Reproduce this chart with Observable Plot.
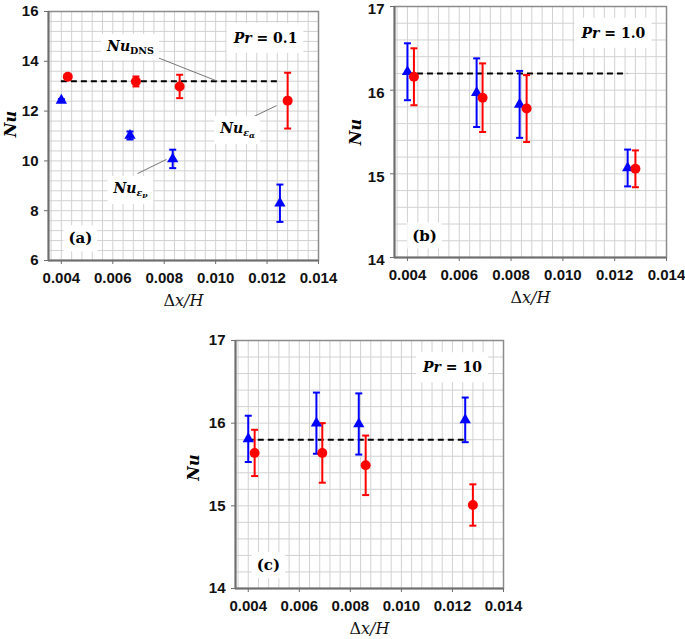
<!DOCTYPE html>
<html><head><meta charset="utf-8">
<script src="https://cdn.jsdelivr.net/npm/d3@7"></script>
<script src="https://cdn.jsdelivr.net/npm/@observablehq/plot@0.6"></script>
<style>
body{margin:0;background:#fff;}
#wrap{position:relative;width:685px;height:639px;background:#fff;}
.p{position:absolute;}
</style>
</head><body><div id="wrap"></div>
<script>
// ---- data ----
const xNuEv = [0.004, 0.00667, 0.00833, 0.0125];      // triangles (blue)
const xNuEa = [0.00425, 0.0069, 0.0086, 0.0128];      // circles (red)
const prLabels = ["Pr = 0.1", "Pr = 1.0", "Pr = 10"];
const panelTags = ["(a)", "(b)", "(c)"];
const nuDNS = [13.2, 16.2, 15.8];
const nuEv_a = [12.43, 11.02, 10.08, 8.30];
const errEv_a = [0.05, 0.16, 0.37, 0.75];
const nuEa_a = [13.38, 13.19, 12.99, 12.42];
const errEa_a = [0.0, 0.20, 0.47, 1.12];
const nuEv_b = [16.22, 15.97, 15.83, 15.07];
const errEv_b = [0.34, 0.41, 0.40, 0.22];
const nuEa_b = [16.16, 15.91, 15.78, 15.06];
const errEa_b = [0.34, 0.41, 0.40, 0.22];
const nuEv_c = [15.81, 16.00, 15.99, 16.04];
const errEv_c = [0.28, 0.37, 0.37, 0.27];
const nuEa_c = [15.64, 15.64, 15.49, 15.01];
const errEa_c = [0.28, 0.36, 0.36, 0.25];
const xTicks = [0.004, 0.006, 0.008, 0.010, 0.012, 0.014];
const yTicksA = [6, 8, 10, 12, 14, 16];
const yTicksBC = [14, 15, 16, 17];

// ---- helpers ----
const BLUE = "#0000ff", RED = "#ff0000";
const xGrid = d3.range(0, 27).map(i => +(0.0036 + i * 0.0004).toFixed(5));
const capSymbol = {draw(ctx, size) { const r = Math.sqrt(size / Math.PI); ctx.moveTo(-r, 0); ctx.lineTo(r, 0); }};
const SERIF = "'DejaVu Serif', serif";

const RICH = {
  "NuDNS": [{t: "Nu", st: "italic"}, {t: "DNS", st: "normal", lv: 1}],
  "Nuea": [{t: "Nu", st: "italic"}, {t: "ε", st: "italic", lv: 1}, {t: "α", st: "italic", lv: 2}],
  "Nuev": [{t: "Nu", st: "italic"}, {t: "ε", st: "italic", lv: 1}, {t: "ν", st: "italic", lv: 2}],
  "Pr = 0.1": [{t: "Pr", st: "italic"}, {t: " = 0.1", st: "normal"}],
  "Pr = 1.0": [{t: "Pr", st: "italic"}, {t: " = 1.0", st: "normal"}],
  "Pr = 10": [{t: "Pr", st: "italic"}, {t: " = 10", st: "normal"}],
  "Δx/H": [{t: "Δ", st: "normal"}, {t: "x/H", st: "italic"}]
};
const BOXED = new Set(["NuDNS", "Nuea", "Nuev", "Pr = 0.1", "Pr = 1.0", "Pr = 10", "(a)", "(b)", "(c)"]);

function postProcess(svg) {
  d3.select(svg).selectAll("text").each(function() {
    const key = this.textContent;
    const spec = RICH[key];
    if (spec) {
      const base = parseFloat(getComputedStyle(this).fontSize) || 14;
      const sizes = [base, base * 0.68, base * 0.55];
      const shifts = [0, base * 0.22, base * 0.36];
      const el = d3.select(this);
      el.text(null);
      let level = 0;
      for (const p of spec) {
        const lv = p.lv || 0;
        const ts = el.append("tspan").text(p.t).attr("font-size", sizes[lv] + "px");
        if (p.st) ts.attr("font-style", p.st);
        if (lv !== level) ts.attr("dy", (shifts[lv] - shifts[level]) + "px");
        level = lv;
      }
    }
    if (BOXED.has(key)) {
      const bb = this.getBBox();
      const pad = key.startsWith("Pr") ? [6, 7] : [5, 4];
      const rect = document.createElementNS("http://www.w3.org/2000/svg", "rect");
      rect.setAttribute("x", bb.x - pad[0]);
      rect.setAttribute("y", bb.y - pad[1]);
      rect.setAttribute("width", bb.width + 2 * pad[0]);
      rect.setAttribute("height", bb.height + 2 * pad[1]);
      rect.setAttribute("fill", "white");
      rect.setAttribute("stroke", "none");
      const tr = this.getAttribute("transform");
      if (tr) rect.setAttribute("transform", tr);
      this.parentNode.insertBefore(rect, this);
    }
  });
}

function panel(cfg) {
  const tri = xNuEv.map((x, i) => ({x, y: cfg.ev[i], lo: cfg.ev[i] - cfg.eev[i], hi: cfg.ev[i] + cfg.eev[i]}));
  const circ = xNuEa.map((x, i) => ({x, y: cfg.ea[i], lo: cfg.ea[i] - cfg.eea[i], hi: cfg.ea[i] + cfg.eea[i]}));
  const y0 = cfg.yDomain[0];
  const svg = Plot.plot({
    width: cfg.width, height: cfg.height,
    marginLeft: cfg.m[0], marginRight: cfg.m[1], marginTop: cfg.m[2], marginBottom: cfg.m[3],
    x: {domain: [0.0035, 0.014]},
    y: {domain: cfg.yDomain},
    style: {fontFamily: "'Liberation Sans', Arial, sans-serif", fontSize: "15px", fontWeight: "bold", background: "transparent", overflow: "visible"},
    marks: [
      Plot.gridX(xGrid, {stroke: "#d2d2d2", strokeOpacity: 1}),
      Plot.gridY(cfg.yGrid, {stroke: "#d2d2d2", strokeOpacity: 1}),
      Plot.frame({stroke: "#8c8c8c", strokeWidth: 1.5}),
      Plot.ruleX([0.0035], {stroke: "#6e6e6e", strokeWidth: 2}),
      Plot.ruleY([y0], {stroke: "#6e6e6e", strokeWidth: 2}),
      Plot.axisX(xTicks, {tickFormat: d3.format(".3f"), tickSize: 4, tickPadding: 8, stroke: "#6e6e6e", fill: "#111", fontSize: 15, fontWeight: "bold", label: null}),
      // y tick marks
      Plot.axisY(cfg.yTicks, {tickFormat: () => "", tickSize: 4, stroke: "#6e6e6e", label: null}),
      // y tick labels
      Plot.axisY(cfg.yTicks, {tickFormat: d3.format("d"), tickSize: 0, tickPadding: 10, dy: cfg.yTickDy, stroke: "none", fill: "#111", fontSize: 15, fontWeight: "bold", label: null}),
      Plot.ruleY([cfg.dns], {x1: d3.min(xNuEv), x2: d3.max(xNuEv), stroke: "#000", strokeWidth: 2, strokeDasharray: "6,4"}),
      Plot.link(cfg.leaders, {x1: "x1", y1: "y1", x2: "x2", y2: "y2", stroke: "#666", strokeWidth: 0.9}),
      // error bars
      Plot.ruleX(tri, {x: "x", y1: "lo", y2: "hi", stroke: BLUE, strokeWidth: 2}),
      Plot.dot(tri, {x: "x", y: "lo", symbol: capSymbol, r: 3.5, stroke: BLUE, strokeWidth: 2}),
      Plot.dot(tri, {x: "x", y: "hi", symbol: capSymbol, r: 3.5, stroke: BLUE, strokeWidth: 2}),
      Plot.ruleX(circ, {x: "x", y1: "lo", y2: "hi", stroke: RED, strokeWidth: 2}),
      Plot.dot(circ, {x: "x", y: "lo", symbol: capSymbol, r: 3.5, stroke: RED, strokeWidth: 2}),
      Plot.dot(circ, {x: "x", y: "hi", symbol: capSymbol, r: 3.5, stroke: RED, strokeWidth: 2}),
      // markers
      Plot.dot(tri, {x: "x", y: "y", symbol: "triangle", r: 4.2, fill: BLUE, stroke: "none"}),
      Plot.dot(circ, {x: "x", y: "y", symbol: "circle", r: 5, fill: RED, stroke: "none"}),
      // annotations
      Plot.text(cfg.annots, {x: "x", y: "y", text: "t", fontFamily: SERIF, fontWeight: "bold", fontStyle: "italic", fontSize: 14, fill: "#000", textAnchor: "middle", lineAnchor: "middle"}),
      Plot.text([cfg.tag], {x: cfg.tagPos[0], y: cfg.tagPos[1], text: d => d, fontFamily: SERIF, fontWeight: "bold", fontSize: 15, fill: "#000", textAnchor: "middle", lineAnchor: "middle"}),
      Plot.text(["Nu"], {frameAnchor: "left", dx: cfg.ylab[0], dy: cfg.ylab[1], rotate: -90, text: d => d, fontFamily: SERIF, fontWeight: "bold", fontStyle: "italic", fontSize: 16, fill: "#000", textAnchor: "middle", lineAnchor: "middle"}),
      Plot.text(["Δx/H"], {frameAnchor: "bottom", dy: cfg.xlab, text: d => d, fontFamily: SERIF, fontWeight: "normal", fontSize: 16, fill: "#111", textAnchor: "middle", lineAnchor: "middle"})
    ]
  });
  return svg;
}

const cfgs = [
  {left: 0, top: 0, width: 330, height: 310, m: [48, 12, 11, 50], yTickDy: 0,
   yDomain: [6, 16], yTicks: yTicksA, yGrid: d3.range(0, 26).map(i => +(6 + i * 0.4).toFixed(2)),
   ev: nuEv_a, eev: errEv_a, ea: nuEa_a, eea: errEa_a, dns: nuDNS[0],
   annots: [
     {x: 0.00669, y: 14.59, t: "NuDNS"},
     {x: 0.01085, y: 11.30, t: "Nuea"},
     {x: 0.00669, y: 8.89, t: "Nuev"},
     {x: 0.01194, y: 14.92, t: prLabels[0]}
   ],
   leaders: [
     {x1: 0.00735, y1: 14.31, x2: 0.01007, y2: 13.2},
     {x1: 0.01108, y1: 11.58, x2: 0.01237, y2: 12.22},
     {x1: 0.00696, y1: 9.49, x2: 0.00809, y2: 10.06}
   ],
   tag: panelTags[0], tagPos: [0.00474, 6.88], ylab: [-38, -12], xlab: 40},
  {left: 330, top: 0, width: 355, height: 310, m: [64, 19, 6, 53], yTickDy: 3,
   yDomain: [14, 17], yTicks: yTicksBC, yGrid: d3.range(0, 16).map(i => +(14 + i * 0.2).toFixed(2)),
   ev: nuEv_b, eev: errEv_b, ea: nuEa_b, eea: errEa_b, dns: nuDNS[1],
   annots: [{x: 0.01195, y: 16.68, t: prLabels[1]}],
   leaders: [],
   tag: panelTags[1], tagPos: [0.00466, 14.26], ylab: [-39, 0], xlab: 40},
  {left: 180, top: 320, width: 340, height: 319, m: [55, 17, 20, 51], yTickDy: 0,
   yDomain: [14, 17], yTicks: yTicksBC, yGrid: d3.range(0, 16).map(i => +(14 + i * 0.2).toFixed(2)),
   ev: nuEv_c, eev: errEv_c, ea: nuEa_c, eea: errEa_c, dns: nuDNS[2],
   annots: [{x: 0.0120, y: 16.67, t: prLabels[2]}],
   leaders: [],
   tag: panelTags[2], tagPos: [0.00479, 14.28], ylab: [-42, 3], xlab: 40}
];

const wrap = document.getElementById("wrap");
for (const c of cfgs) {
  const svg = panel(c);
  const div = document.createElement("div");
  div.className = "p";
  div.style.left = c.left + "px";
  div.style.top = c.top + "px";
  div.appendChild(svg);
  wrap.appendChild(div);
  postProcess(svg);
}
</script>
</body></html>
